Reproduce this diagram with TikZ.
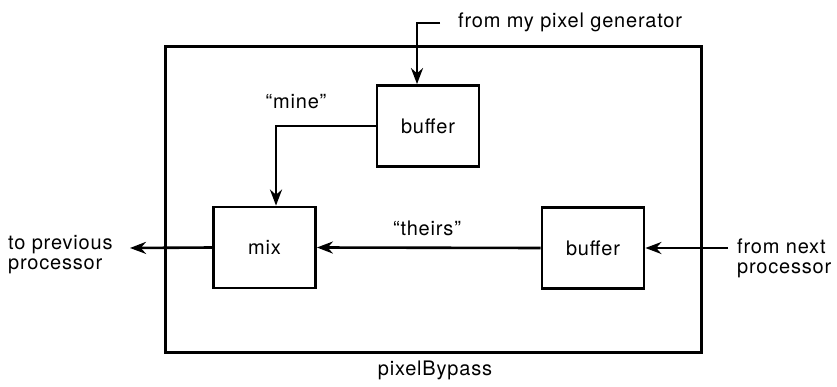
\documentclass[tikz,border=0pt]{standalone}
\usepackage{fontspec}
\setmainfont[LetterSpace=4]{TeX Gyre Heros}
\usetikzlibrary{arrows.meta}
\begin{document}
\begin{tikzpicture}[x=1pt,y=-1pt,
  every node/.style={font=\fontsize{20}{20}\selectfont, inner sep=0pt},
  blk/.style={draw, line width=2.8pt, minimum width=102pt, minimum height=81pt},
  outerbox/.style={draw, line width=3pt},
  arr/.style={line width=2.6pt, -{Stealth[length=16pt,width=12pt]}},
  lbl/.style={text=black}]
\useasboundingbox (0,0) rectangle (837,387);
\node[outerbox, minimum width=536pt, minimum height=305pt] (outer) at (433,199.5) {};
\node[blk] (buf1) at (428,126) {buffer};
\node[blk] (mix) at (264.5,247.5) {mix};
\node[blk] (buf2) at (593,248) {buffer};
\coordinate (gen) at (440,23);
\coordinate (nx) at (728,248);
\coordinate (pv) at (130,248);
\draw[arr] (gen) -| ([xshift=-11pt]buf1.north);
\draw[arr] (buf1.west) -| ([xshift=11.5pt]mix.north);
\draw[arr] (buf2.west) -- (mix.east);
\draw[arr] (nx) -- (buf2.east);
\draw[arr] (mix.west) -- (pv);
\node[lbl, anchor=west] (tgen) at (458,22) {from my pixel generator};
\node[lbl] (tmine) at (296,102) {``mine''};
\node[lbl] (ttheirs) at (427,228) {``theirs''};
\node[lbl, anchor=west, align=left] (tnext) at (737,258) {from next\\processor};
\node[lbl, anchor=west, align=left] (tprev) at (8,255) {to previous\\processor};
\node[lbl] (tname) at (435,370) {pixelBypass};
\end{tikzpicture}
\end{document}
